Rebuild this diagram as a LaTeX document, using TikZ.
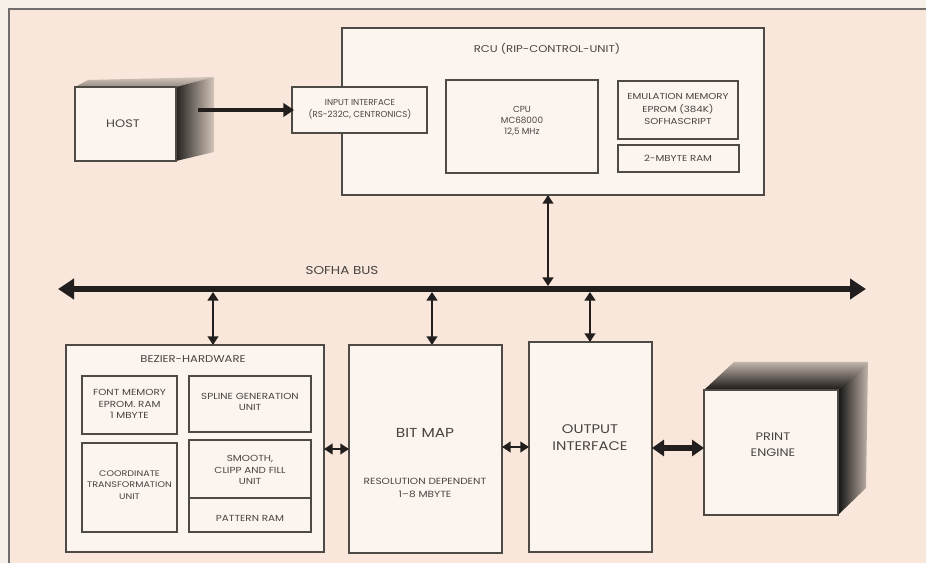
\documentclass[tikz,border=0pt]{standalone}
\usepackage{fontspec}
\setmainfont{Poppins}
\newfontfamily\wide{Poppins}[FakeStretch=1.18]
\usetikzlibrary{arrows.meta,calc,fit}
\definecolor{bgout}{RGB}{247,240,233}
\definecolor{bg}{RGB}{248,231,218}
\definecolor{boxfill}{RGB}{252,245,239}
\definecolor{ln}{RGB}{78,74,70}
\definecolor{txt}{RGB}{72,68,66}
\definecolor{arr}{RGB}{34,30,30}
\begin{document}
\begin{tikzpicture}[x=0.75pt,y=-0.75pt,
  box/.style={draw=ln, line width=0.8pt, fill=boxfill, inner sep=0pt, outer sep=0pt},
  lbl/.style={text=txt, align=center, inner sep=0pt},
  inner/.style={lbl, font=\wide\fontsize{6.6}{8.4}\selectfont},
  rcuin/.style={lbl, font=\wide\fontsize{6.5}{9.6}\selectfont},
  cpuf/.style={lbl, font=\fontsize{6.6}{8.3}\selectfont},
  iniff/.style={lbl, font=\fontsize{6.5}{8.8}\selectfont},
  title/.style={lbl, font=\wide\fontsize{7.4}{9}\selectfont},
  busf/.style={lbl, font=\wide\fontsize{8.6}{10}\selectfont},
  bigA/.style={lbl, font=\wide\fontsize{9.4}{12.7}\selectfont},
  bigB/.style={lbl, font=\wide\fontsize{8.2}{12}\selectfont},
  thinarrow/.style={line width=2.2pt, draw=arr, {Triangle[length=6.5pt,width=8pt]}-{Triangle[length=6.5pt,width=8pt]}},
  thickarrow/.style={line width=3.8pt, draw=arr, {Triangle[length=9pt,width=12pt]}-{Triangle[length=9pt,width=12pt]}},
  hostarrow/.style={line width=3.4pt, draw=arr, -{Triangle[length=8pt,width=10pt]}},
  busline/.style={line width=4.5pt, draw=arr, {Triangle[length=12pt,width=15pt]}-{Triangle[length=12pt,width=15pt]}}
]
% background and frame
\fill[bgout] (0,0) rectangle (926,563);
\fill[bg] (9,9) rectangle (926,563);
\useasboundingbox (0,0) rectangle (926,563);
\draw[ln!80, line width=0.9pt] (926,9) -- (9,9) -- (9,563);

% HOST (3D box)
\shade[top color=black!15!bg, bottom color=black!40!bg] (75,87) -- (88,80) -- (214,77) -- (176,87) -- cycle;
\shade[left color=black!85!bg, right color=black!15!bg] (176,87) -- (214,77) -- (214,152) -- (176,161) -- cycle;
\node[box, fit={(75,87) (176,161)}] (host) {};
\node[bigB] (hosttxt) at (123,124) {HOST};

% RCU
\node[box, fit={(342,28) (764,195)}] (rcu) {};
\node[title] (rcutxt) at (547,49) {RCU (RIP-CONTROL-UNIT)};
\node[box, fit={(292,87) (427,133)}] (inif) {};
\node[iniff] (iniftxt) at (360,109) {INPUT INTERFACE\\(RS-232C, CENTRONICS)};
\node[box, fit={(446,80) (598,173)}] (cpu) {};
\node[cpuf] (cputxt) at (522,121) {CPU\\MC68000\\12,5 MHz};
\node[box, fit={(618,81) (738,139)}] (emu) {};
\node[rcuin] (emutxt) at (678,109) {EMULATION MEMORY\\EPROM (384K)\\SOFHASCRIPT};
\node[box, fit={(618,145) (739,172)}] (ram) {};
\node[rcuin] (ramtxt) at (678,158) {2-MBYTE RAM};

% host arrow
\draw[hostarrow] ($(host.east |- inif.west)+(22,0)$) -- ([xshift=1.5pt]inif.west);

% bus
\coordinate (busL) at (58,289);
\coordinate (busR) at (866,289);
\draw[busline] (busL) -- (busR);
\node[busf] (bustxt) at (342,270) {SOFHA BUS};

% Bezier hardware
\node[box, fit={(66,345) (324,552)}] (bez) {};
\node[title] (beztxt) at (193,359) {BEZIER-HARDWARE};
\node[box, fit={(82,376) (177,434)}] (font) {};
\node[inner] (fonttxt) at (129.5,404) {FONT MEMORY\\EPROM. RAM\\1 MBYTE};
\node[box, fit={(82,443) (177,532)}] (coord) {};
\node[inner, font=\wide\fontsize{6.1}{8.4}\selectfont] (coordtxt) at (129.5,485) {COORDINATE\\TRANSFORMATION\\UNIT};
\node[box, fit={(189,376) (311,432)}] (spline) {};
\node[inner] (splinetxt) at (250,402) {SPLINE GENERATION\\UNIT};
\node[box, fit={(189,440) (311,498)}] (smooth) {};
\node[inner] (smoothtxt) at (250,470) {SMOOTH,\\CLIPP AND FILL\\UNIT};
\node[box, fit={(189,498) (311,532)}] (pat) {};
\node[inner] (pattxt) at (250,518) {PATTERN RAM};

% Bit map
\node[box, fit={(349,345) (502,553)}] (bm) {};
\node[bigA, font=\wide\fontsize{9.8}{12}\selectfont] (bmtxt) at (425,433) {BIT MAP};
\node[inner, font=\wide\fontsize{6.7}{9.5}\selectfont] (bmtxt2) at (425,488) {RESOLUTION DEPENDENT\\1–8 MBYTE};

% Output interface
\node[box, fit={(529,342) (652,552)}] (out) {};
\node[bigA] (outtxt) at (590,438) {OUTPUT\\INTERFACE};

% Print engine (3D box)
\shade[top color=black!22!bg, bottom color=black!90!bg] (704,390) -- (734,362) -- (868,362) -- (838,390) -- cycle;
\shade[left color=black!92!bg, right color=black!22!bg] (838,390) -- (868,362) -- (866,488) -- (838,515) -- cycle;
\node[box, fit={(704,390) (838,515)}] (pe) {};
\node[bigB] (petxt) at (773,445) {PRINT\\ENGINE};

% bus connections
\coordinate (b1) at (548,289);
\coordinate (b2) at (213,289);
\coordinate (b3) at (432,289);
\coordinate (b4) at (590,289);
\draw[thinarrow] (rcu.south -| b1) -- ([yshift=2.2pt]b1);
\draw[thinarrow] ([yshift=-2.2pt]b2) -- (bez.north -| b2);
\draw[thinarrow] ([yshift=-2.2pt]b3) -- (bm.north -| b3);
\draw[thinarrow] ([yshift=-2.2pt]b4) -- (out.north -| b4);

% horizontal links
\coordinate (yA) at (0,449);
\coordinate (yB) at (0,447);
\coordinate (yC) at (0,448);
\draw[thinarrow] (bez.east |- yA) -- (bm.west |- yA);
\draw[thinarrow] (bm.east |- yB) -- (out.west |- yB);
\draw[thickarrow] (out.east |- yC) -- (pe.west |- yC);
\end{tikzpicture}
\end{document}
